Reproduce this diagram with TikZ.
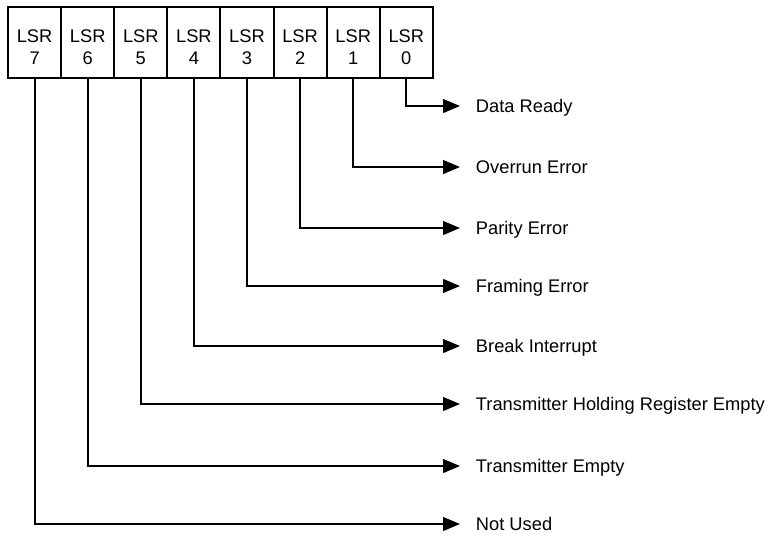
\documentclass[tikz,border=0pt]{standalone}
\usepackage{fontspec}
\setmainfont{Liberation Sans}
\usetikzlibrary{arrows.meta}
\newcommand{\lsrbit}[1]{\rule{0pt}{15.7pt}LSR\\[-1pt]#1}
\begin{document}
\begin{tikzpicture}[x=0.025cm, y=-0.025cm, line width=1.4pt]
			\useasboundingbox (0,0) rectangle (770,535);
			\begin{scope}[every node/.style={rectangle, draw, minimum width=1.3275cm, minimum height=1.775cm, align=center, font=\fontsize{13}{16.4}\selectfont, inner sep=0pt}]
				\node (7) at (34.6,42.5) {\lsrbit{7}};
				\node (6) at (87.7,42.5) {\lsrbit{6}};
				\node (5) at (140.8,42.5) {\lsrbit{5}};
				\node (4) at (193.9,42.5) {\lsrbit{4}};
				\node (3) at (247.0,42.5) {\lsrbit{3}};
				\node (2) at (300.1,42.5) {\lsrbit{2}};
				\node (1) at (353.2,42.5) {\lsrbit{1}};
				\node (0) at (406.3,42.5) {\lsrbit{0}};
			\end{scope}

			\begin{scope}[every node/.style={anchor=west, inner sep=0pt, font=\fontsize{13}{15.6}\selectfont, text height=9.3pt, text depth=0pt}]
				\node (t0) at (475,106) {Data Ready};
				\node (t1) at (475,167) {Overrun Error};
				\node (t2) at (475,228) {Parity Error};
				\node (t3) at (475,286) {Framing Error};
				\node (t4) at (475,346) {Break Interrupt};
				\node (t5) at (475,404) {Transmitter Holding Register Empty};
				\node (t6) at (475,466) {Transmitter Empty};
				\node (t7) at (475,524) {Not Used};
			\end{scope}

			\begin{scope}[-{Triangle[length=0.42cm, width=0.34cm]}, shorten >=0.375cm]
				\draw (0.south) |- (t0.west);
				\draw (1.south) |- (t1.west);
				\draw (2.south) |- (t2.west);
				\draw (3.south) |- (t3.west);
				\draw (4.south) |- (t4.west);
				\draw (5.south) |- (t5.west);
				\draw (6.south) |- (t6.west);
				\draw (7.south) |- (t7.west);
			\end{scope}
		\end{tikzpicture}
\end{document}
